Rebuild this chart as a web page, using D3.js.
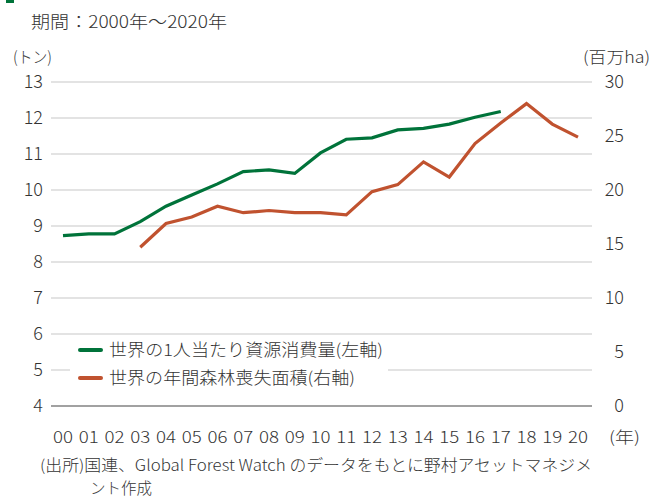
<!DOCTYPE html>
<html>
<head>
<meta charset="utf-8">
<script src="https://cdn.jsdelivr.net/npm/d3@7"></script>
<style>
  body { margin: 0; background: #fff; }
  svg { display: block; font-family: "Noto Sans CJK JP", "Noto Sans", sans-serif; font-weight: 300; }
  text { fill: #333; }
</style>
</head>
<body>
<div id="chart"></div>
<script>
// years 2000-2020, labels shown as two digits
var years = d3.range(2000, 2021);
var yearLabels = years.map(function(y){ return String(y).slice(2); });

// per-capita resource consumption (tons, left axis) 2000-2017
var consumption = [8.73, 8.78, 8.78, 9.12, 9.55, 9.86, 10.17, 10.51, 10.56, 10.46,
  11.03, 11.41, 11.45, 11.67, 11.71, 11.83, 12.02, 12.18];

// annual tree cover loss (million ha, right axis) 2003-2020
var lossYears = d3.range(2003, 2021);
var forestLoss = [14.7, 16.9, 17.5, 18.5, 17.9, 18.1, 17.9, 17.9, 17.7, 19.85,
  20.5, 22.6, 21.2, 24.3, 26.2, 28.0, 26.1, 24.9];

var leftTicks = d3.range(4, 14);
var rightTicks = d3.range(0, 31, 5);

var width = 653, height = 500;
var green = "#00733a", red = "#c0522f";

var svg = d3.select("#chart").append("svg")
  .attr("width", width)
  .attr("height", height);

var x = d3.scaleLinear().domain([2000, 2020]).range([63, 578]);
var yL = d3.scaleLinear().domain([4, 13]).range([406, 82]);
var yR = d3.scaleLinear().domain([0, 30]).range([406, 82]);

// little green mark in the corner
svg.append("rect").attr("x", 6).attr("y", 0).attr("width", 8).attr("height", 3).attr("fill", green);

svg.append("text").attr("x", 31).attr("y", 28)
  .style("font-size", "17px")
  .attr("textLength", 196).attr("lengthAdjust", "spacingAndGlyphs")
  .text("期間：2000年～2020年");

svg.append("text").attr("x", 13).attr("y", 63)
  .style("font-size", "16px")
  .attr("textLength", 39).attr("lengthAdjust", "spacingAndGlyphs")
  .text("(トン)");
svg.append("text").attr("x", 583).attr("y", 63)
  .style("font-size", "16px")
  .attr("textLength", 67).attr("lengthAdjust", "spacingAndGlyphs")
  .text("(百万ha)");

// gridlines
svg.append("g").selectAll("line")
  .data(leftTicks.slice(1)).enter()
  .append("line")
    .attr("x1", 51).attr("x2", 592)
    .attr("y1", function(d){ return yL(d); })
    .attr("y2", function(d){ return yL(d); })
    .attr("stroke", "#c8c8c8").attr("stroke-width", 1.2);

svg.append("line")
  .attr("x1", 51).attr("x2", 592)
  .attr("y1", yL(4)).attr("y2", yL(4))
  .attr("stroke", "#444").attr("stroke-width", 1.2);

// left axis labels
svg.append("g").selectAll("text")
  .data(leftTicks).enter()
  .append("text")
    .attr("x", 43)
    .attr("y", function(d){ return yL(d); })
    .attr("dy", "0.36em")
    .attr("text-anchor", "end")
    .style("font-size", "18px")
    .text(function(d){ return d; });

// right axis labels
svg.append("g").selectAll("text")
  .data(rightTicks).enter()
  .append("text")
    .attr("x", 624)
    .attr("y", function(d){ return yR(d); })
    .attr("dy", "0.36em")
    .attr("text-anchor", "end")
    .style("font-size", "18px")
    .text(function(d){ return d; });

// x labels
svg.append("g").selectAll("text")
  .data(years).enter()
  .append("text")
    .attr("x", function(d){ return x(d); })
    .attr("y", 443)
    .attr("text-anchor", "middle")
    .style("font-size", "16px")
    .attr("textLength", 20).attr("lengthAdjust", "spacingAndGlyphs")
    .text(function(d, i){ return yearLabels[i]; });
svg.append("text").attr("x", 609).attr("y", 443)
  .style("font-size", "16px")
  .attr("textLength", 31).attr("lengthAdjust", "spacingAndGlyphs")
  .text("(年)");

// lines
var lineL = d3.line()
  .x(function(d, i){ return x(years[i]); })
  .y(function(d){ return yL(d); });
var lineR = d3.line()
  .x(function(d, i){ return x(lossYears[i]); })
  .y(function(d){ return yR(d); });

svg.append("path").datum(forestLoss)
  .attr("d", lineR).attr("fill", "none")
  .attr("stroke", red).attr("stroke-width", 3.2).attr("stroke-linejoin", "miter");
svg.append("path").datum(consumption)
  .attr("d", lineL).attr("fill", "none")
  .attr("stroke", green).attr("stroke-width", 3.2).attr("stroke-linejoin", "miter");

// legend
var legend = svg.append("g");
legend.append("rect").attr("x", 70).attr("y", 338).attr("width", 318).attr("height", 54).attr("fill", "#fff");
var legendItems = [
  { label: "世界の1人当たり資源消費量(左軸)", color: green, len: 274 },
  { label: "世界の年間森林喪失面積(右軸)", color: red, len: 246 }
];
legend.selectAll("g.item")
  .data(legendItems).enter()
  .append("g").attr("class", "item")
  .each(function(d, i){
    var g = d3.select(this);
    var yy = 350 + i * 28;
    g.append("line").attr("x1", 80).attr("x2", 101).attr("y1", yy).attr("y2", yy)
      .attr("stroke", d.color).attr("stroke-width", 4).attr("stroke-linecap", "round");
    g.append("text").attr("x", 109).attr("y", yy).attr("dy", "0.36em")
      .style("font-size", "16.5px")
      .attr("textLength", d.len).attr("lengthAdjust", "spacingAndGlyphs")
      .text(d.label);
  });

// source note
svg.append("text").attr("x", 40).attr("y", 471).style("font-size", "15.5px")
  .attr("textLength", 552).attr("lengthAdjust", "spacingAndGlyphs")
  .text("(出所)国連、Global Forest Watch のデータをもとに野村アセットマネジメ");
svg.append("text").attr("x", 90).attr("y", 494).style("font-size", "15.5px")
  .text("ント作成");
</script>
</body>
</html>
